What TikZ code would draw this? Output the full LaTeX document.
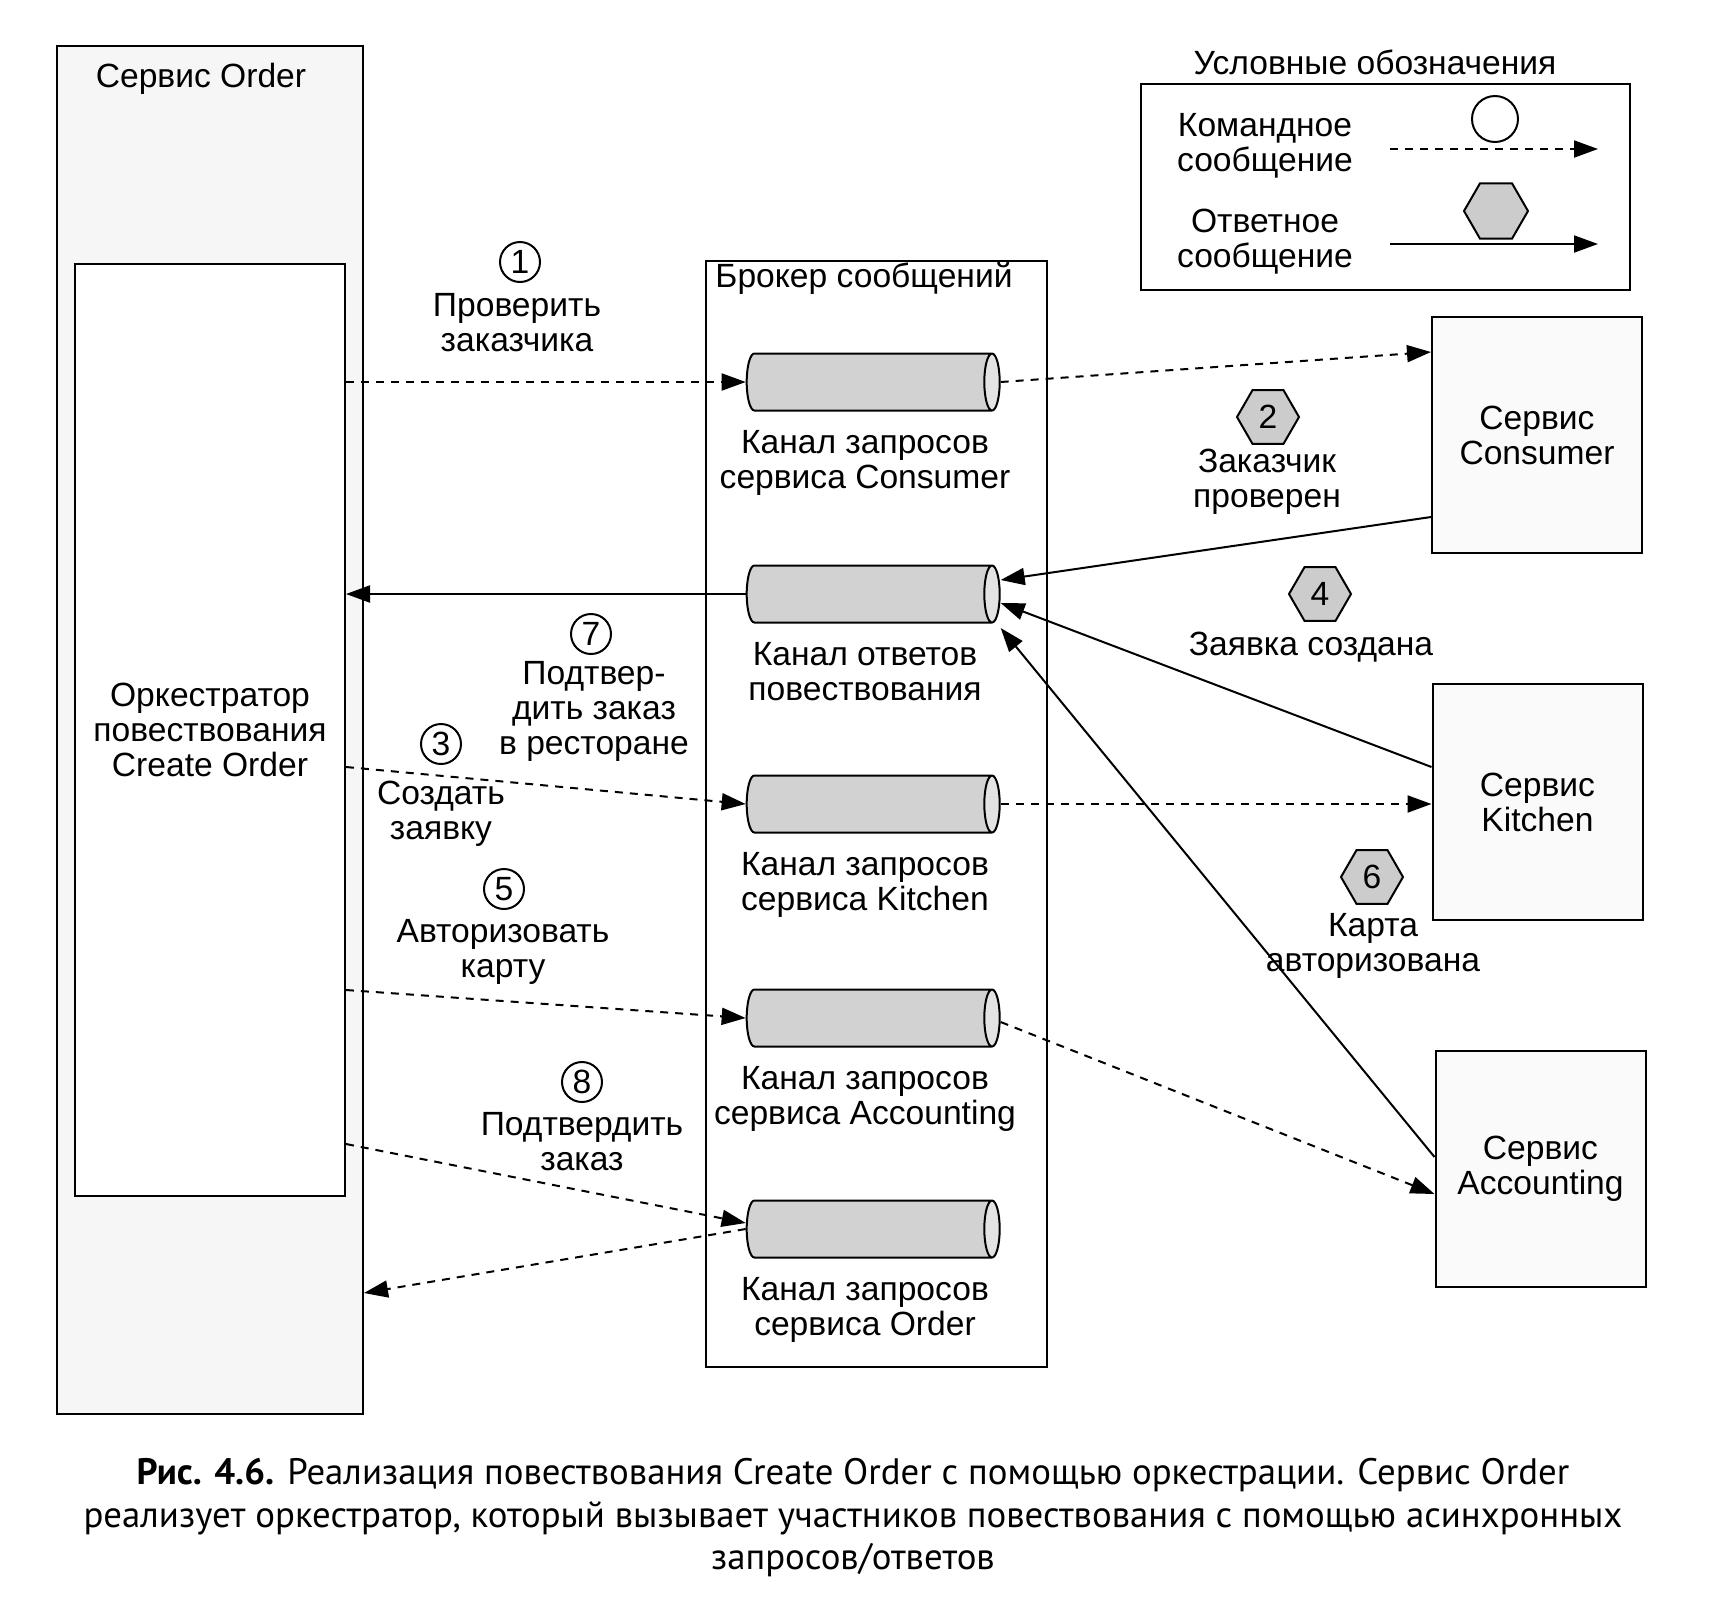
\documentclass[tikz,border=0pt]{standalone}
\usepackage{fontspec}
\setmainfont{Liberation Sans}
\newfontfamily\capfont{PT Sans}
\usetikzlibrary{arrows.meta,shapes.geometric,positioning}
\newcommand{\diagfont}{\fontsize{16.8}{17.5}\selectfont}

\begin{document}
\begin{tikzpicture}[x=0.5pt, y=-0.5pt, line width=1pt, > = {Triangle[length=12pt,width=8.5pt]},
    every node/.style={font=\diagfont, inner sep=0pt, align=center},
    box/.style={draw, rectangle},
    svcbox/.style={box, fill=gray!4, minimum width=105pt, minimum height=118pt},
    chan/.style={cylinder, draw, shape aspect=0.27, inner ysep=14.25pt, cylinder uses custom fill, cylinder body fill=gray!35, cylinder end fill=gray!22, minimum height=126.5pt, minimum width=28.5pt},
    cmd/.style={->, dash pattern=on 4pt off 3.5pt},
    reply/.style={->},
    stepnum/.style={circle, draw, fill=white, minimum size=20pt},
    replynum/.style={regular polygon, regular polygon sides=6, draw, fill=gray!40, minimum size=31pt}]

    \useasboundingbox (0,0) rectangle (1726,1608);

    % order service
    \node[box, fill=gray!7, minimum width=153pt, minimum height=684pt] (order) at (210,730) {};
    \node (ordertitle) at (201,79) {Сервис Order};
    \node[box, fill=white, minimum width=135pt, minimum height=466pt] (orch) at (210,730) {Оркестратор\\повествования\\Create Order};

    % message broker
    \node[box, fill=white, minimum width=170.5pt, minimum height=553pt] (broker) at (876.5,814) {};
    \node (brokertitle) at (864,279) {Брокер сообщений};
    \node[chan] (chcons) at (865,382) {};
    \node[below=9pt of chcons] (chconslbl) {Канал запросов\\сервиса Consumer};
    \node[chan] (chreply) at (865,594) {};
    \node[below=9pt of chreply] (chreplylbl) {Канал ответов\\повествования};
    \node[chan] (chkitch) at (865,804) {};
    \node[below=9pt of chkitch] (chkitchlbl) {Канал запросов\\сервиса Kitchen};
    \node[chan] (chacct) at (865,1018) {};
    \node[below=9pt of chacct] (chacctlbl) {Канал запросов\\сервиса Accounting};
    \node[chan] (chorder) at (865,1229) {};
    \node[below=9pt of chorder] (chorderlbl) {Канал запросов\\сервиса Order};

    % participants
    \node[svcbox] (cons) at (1537,435) {Сервис\\Consumer};
    \node[svcbox] (kitch) at (1537.5,802) {Сервис\\Kitchen};
    \node[svcbox] (acct) at (1540.5,1168.5) {Сервис\\Accounting};

    % legend
    \node (legtitle) at (1375,62) {Условные обозначения};
    \node[box, minimum width=244.5pt, minimum height=103pt] (legend) at (1385,187) {};
    \node (legcmd) at (1265,146) {Командное\\сообщение};
    \node (legreply) at (1265,242) {Ответное\\сообщение};
    \node[stepnum, minimum size=23pt] (legcircle) at (1495,119) {};
    \node[replynum, minimum size=32pt] (leghex) at (1496,211) {};
    \coordinate (lc1) at (1390,149);
    \coordinate (lc2) at (1598,149);
    \coordinate (lr1) at (1390,244);
    \coordinate (lr2) at (1598,244);
    \draw[cmd] (lc1) -- (lc2);
    \draw[reply] (lr1) -- (lr2);

    % steps
    \node[stepnum] (n1) at (520,262) {1};
    \node (t1) at (517,323) {Проверить\\заказчика};
    \node[replynum] (n2) at (1268,417) {2};
    \node (t2) at (1267,482) {Заказчик\\проверен};
    \node[stepnum] (n3) at (441,744) {3};
    \node (t3) at (441,814) {Создать\\заявку};
    \node[replynum] (n4) at (1320,594) {4};
    \node (t4) at (1311,647) {Заявка создана};
    \node[stepnum] (n5) at (504,889) {5};
    \node (t5) at (503,952) {Авторизовать\\карту};
    \node[replynum] (n6) at (1372,877) {6};
    \node (t6) at (1373,946) {Карта\\авторизована};
    \node[stepnum] (n7) at (591,634) {7};
    \node (t7) at (594,711) {Подтвер-\\дить заказ\\в ресторане};
    \node[stepnum] (n8) at (582,1082) {8};
    \node (t8) at (582,1142) {Подтвердить\\заказ};

    % messages
    \coordinate (o3) at (orch.east |- 0,767);
    \coordinate (o5) at (orch.east |- 0,990);
    \coordinate (o8) at (orch.east |- 0,1144);
    \coordinate (oback) at (order.east |- 0,1293);
    \draw[cmd] (orch.east |- chcons.west) -- (chcons.west);
    \draw[cmd] (chcons.east) -- (cons.west |- 0,352);
    \draw[reply] (cons.west |- 0,517) -- ([yshift=7pt]chreply.east);
    \draw[reply] (kitch.west |- 0,767) -- ([yshift=-4.5pt]chreply.east);
    \draw[reply] (acct.west |- 0,1157) -- ([yshift=-17pt]chreply.east);
    \draw[reply] (chreply.west) -- (orch.east |- chreply.west);
    \draw[cmd] (o3) -- (chkitch.west);
    \draw[cmd] (chkitch.east) -- (kitch.west |- chkitch.east);
    \draw[cmd] (o5) -- (chacct.west);
    \draw[cmd] ([yshift=-2pt]chacct.east) -- (acct.west |- 0,1194);
    \draw[cmd] (o8) -- ([yshift=3pt]chorder.west);
    \draw[cmd] (chorder.west) -- (oback);

    % caption
    \node[font=\capfont\fontsize{18.4}{21.25}\selectfont] (caption) at (853,1518) {\textbf{Рис. 4.6.} Реализация повествования Create Order с помощью оркестрации. Сервис Order\\реализует оркестратор, который вызывает участников повествования с помощью асинхронных\\запросов/ответов};

\end{tikzpicture}
\end{document}
